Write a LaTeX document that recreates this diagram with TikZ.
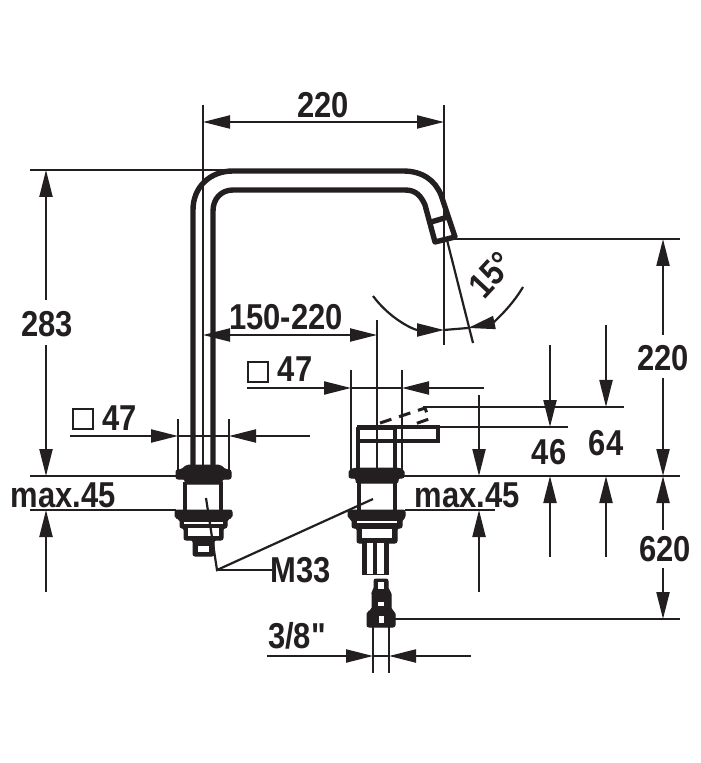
\documentclass[tikz,border=0pt]{standalone}
\usepackage{fontspec}
\newfontfamily\labelfont[FakeStretch=0.86]{Liberation Sans}
\usetikzlibrary{arrows.meta}
\definecolor{inkblack}{HTML}{231F20}
\tikzset{
dimline/.style={inkblack,line width=1.1pt},
arr/.style={dimline,>={Triangle[length=13.5pt,width=6.5pt]}},
wall/.style={inkblack,line width=2.7pt,line join=round},
thickwall/.style={inkblack,line width=2.2pt,line join=round},
solidpart/.style={fill=inkblack,draw=inkblack,line width=.5pt,rounded corners=1pt},
hole/.style={fill=white},
dimlabel/.style={inkblack,inner sep=0pt,font=\fontsize{18}{20}\labelfont\bfseries},
sqbox/.style={draw=inkblack,line width=.7pt,minimum size=10pt,inner sep=0pt},
}
\begin{document}
\begin{tikzpicture}[x=.5pt,y=-.5pt]
        \useasboundingbox (0,0) rectangle (700,763);

        % spout
        \draw[wall]
        (193,465) -- (193,210) .. controls (193,187) and (210,171) .. (233,171)
        -- (403,171) .. controls (422,171) and (435,180) .. (441,195)
        -- (455,237) -- (435,242) -- (425,205)
        .. controls (421,196) and (416,190) .. (405,190)
        -- (233,190) .. controls (221,190) and (213,199) .. (213,211) -- (213,465);
        \draw[wall] (431,222) -- (448,217);
        \draw[dimline] (203,105) -- (203,465);

        % left base
        \draw[solidpart] (187,465) -- (220,465) -- (226,470) -- (231,470) -- (231,479) -- (222,479)
        -- (222,484) -- (185,484) -- (185,479) -- (176,479) -- (176,470) -- (181,470) -- cycle;
        \draw[thickwall] (185,482) -- (185,511) (221,482) -- (221,511);
        \draw[solidpart] (175,510) -- (232,510) -- (232,518) -- (227,519) -- (227,528) -- (223,528)
        -- (223,540) -- (214,540) -- (214,556) -- (193,556) -- (193,540) -- (184,540) -- (184,528)
        -- (180,528) -- (180,519) -- (175,518) -- cycle;
        \fill[hole] (184,522) rectangle (223,524);
        \fill[hole] (188,528) rectangle (219,536);
        \fill[hole] (198,546) rectangle (209,552);

        % right base
        \draw[inkblack,line width=2pt] (357,427) -- (438,427) -- (438,441) -- (397,441);
        \fill[inkblack] (357,425) rectangle (396,430);
        \draw[thickwall] (358,427) -- (358,468) (359,441) -- (395,441) (395,427) -- (395,468);
        \draw[solidpart] (356,468) -- (398,468) -- (404,470) -- (404,478) -- (398,478) -- (398,483)
        -- (356,483) -- (356,478) -- (349,478) -- (349,470) -- cycle;
        \draw[thickwall] (359,482) -- (359,511) (395,482) -- (395,511);
        \draw[solidpart] (348,510) -- (405,510) -- (405,518) -- (402,519) -- (402,528) -- (397,528)
        -- (397,543) -- (357,543) -- (357,528) -- (352,528) -- (352,519) -- (348,518) -- cycle;
        \fill[hole] (357,521) rectangle (397,523);
        \fill[hole] (362,529) rectangle (392,538);

        % tubes and fitting
        \fill[inkblack] (362,543) rectangle (389,575);
        \fill[hole] (367,543) rectangle (373,574);
        \fill[hole] (377,543) rectangle (384,574);
        \draw[solidpart] (374,579) -- (388,579) -- (388,590) -- (391,592) -- (391,610) -- (395,612)
        -- (395,627) -- (367,627) -- (367,612) -- (372,610) -- (372,592) -- (374,590) -- cycle;
        \fill[hole] (378,582) rectangle (384,589);
        \fill[hole] (378,602) rectangle (384,606);
        \fill[hole] (379,616) rectangle (384,623);

        % lever swung out
        \draw[inkblack,line width=1.5pt,dash pattern=on 6pt off 4pt]
        (380,423) -- (425,408) -- (429,419) -- (412,425);

        % extension lines
        \draw[dimline] (444,105) -- (444,345);
        \draw[dimline] (447,240) -- (473,343);
        \draw[dimline] (30,170) -- (233,170);
        \draw[dimline] (455,239) -- (680,239);
        \draw[dimline] (30,476) -- (176,476);
        \draw[dimline] (404,476) -- (680,476);
        \draw[dimline] (30,510) -- (176,510);
        \draw[dimline] (405,510) -- (495,510);
        \draw[dimline] (423,407) -- (624,407);
        \draw[dimline] (438,427) -- (568,427);
        \draw[dimline] (395,619) -- (680,619);
        \draw[dimline] (178,419) -- (178,470);
        \draw[dimline] (229,419) -- (229,470);
        \draw[dimline] (351,370) -- (351,470);
        \draw[dimline] (377,320) -- (377,470);
        \draw[dimline] (402,370) -- (402,470);
        \draw[dimline] (373,627) -- (373,673);
        \draw[dimline] (389,627) -- (389,673);

        % dimensions
        \draw[arr,<->] (203,122) -- (444,122);
        \draw[arr,<-] (46,170) -- (46,300);
        \draw[arr,<-] (46,476) -- (46,345);
        \draw[arr,<-] (46,510) -- (46,592);
        \draw[arr,<-] (178,436) -- (70,436);
        \draw[arr,<-] (229,436) -- (310,436);
        \draw[dimline] (178,436) -- (229,436);
        \draw[arr,<->] (203,335) -- (377,335);
        \draw[arr,<-] (351,388) -- (247,388);
        \draw[arr,<-] (402,388) -- (484,388);
        \draw[dimline] (351,388) -- (402,388);
        \draw[arr,<-] (479,476) -- (479,395);
        \draw[arr,<-] (479,510) -- (479,592);
        \draw[arr,<-] (550,427) -- (550,345);
        \draw[arr,<-] (550,476) -- (550,557);
        \draw[arr,<-] (606,407) -- (606,325);
        \draw[arr,<-] (606,476) -- (606,557);
        \draw[arr,<-] (663,239) -- (663,335);
        \draw[arr,<-] (663,476) -- (663,378);
        \draw[arr,<-] (663,476) -- (663,530);
        \draw[arr,<-] (663,619) -- (663,568);
        \draw[arr,<-] (373,656) -- (267,656);
        \draw[arr,<-] (389,656) -- (471,656);
        \draw[dimline] (373,656) -- (389,656);

        % angle
        \draw[arr,->] (373,296) .. controls (390,319) and (414,330) .. (444,330);
        \draw[arr,->] (523,287) .. controls (510,309) and (492,323) .. (468,328);
        \draw[dimline] (444,330) -- (468,328);

        % M33 leaders
        \coordinate (threadkink) at (217,570);
        \draw[dimline] (206,498) -- (threadkink) -- (373,499);
        \draw[dimline] (threadkink) -- (272,570);

        % labels
        \node[dimlabel] (widthlabel) at (323,105) {220};
        \node[dimlabel] (heightlabel) at (47,324) {283};
        \node[dimlabel] (spreadlabel) at (286,317) {150-220};
        \node[dimlabel] (rightheight) at (663,358) {220};
        \node[dimlabel] (lowerlabel) at (665,549) {620};
        \node[dimlabel] (leverlow) at (549,452) {46};
        \node[dimlabel] (leverhigh) at (606,443) {64};
        \node[dimlabel] (maxleft) at (63,495) {max.45};
        \node[dimlabel] (maxright) at (467,495) {max.45};
        \node[dimlabel] (threadlabel) at (301,570) {M33};
        \node[dimlabel] (pipelabel) at (297,636) {3/8"};
        \node[dimlabel,rotate=47] (anglelabel) at (491,275) {15°};
        \node[sqbox] (squareleft) at (83,419) {};
        \node[dimlabel] (sizeleft) at (120,418) {47};
        \node[sqbox] (squareright) at (258,372) {};
        \node[dimlabel] (sizeright) at (295,369) {47};
    \end{tikzpicture}
\end{document}
